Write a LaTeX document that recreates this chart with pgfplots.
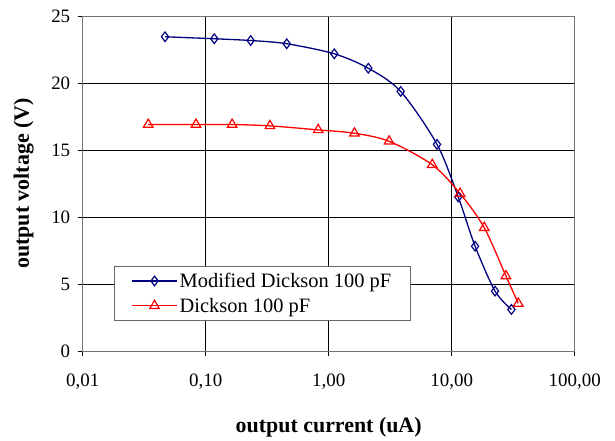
\documentclass[border=0pt]{standalone}
\usepackage{pgfplots}
\pgfplotsset{compat=1.18}
\usepackage{fontspec}
\setmainfont{Liberation Serif}
\definecolor{navyline}{RGB}{0,0,128}
\begin{document}
\begin{tikzpicture}
\begin{axis}[
  name=ax,
  scale only axis,
  width=492bp, height=335bp,
  xmode=log, log basis x=10,
  xmin=0.01, xmax=100, ymin=0, ymax=25,
  xtick={0.01,0.1,1,10,100},
  xticklabels={{0,01},{0,10},{1,00},{10,00},{100,00}},
  ytick={0,5,10,15,20,25},
  xminorticks=false, yminorticks=false,
  grid=major,
  major grid style={black, line width=0.6pt},
  axis line style={black!55, line width=0.8pt},
  tick style={black, line width=0.6pt},
  tick align=outside, tick pos=left,
  major tick length=5bp,
  /pgf/number format/assume math mode=true,
  ticklabel style={font=\fontsize{19}{22}\selectfont},
  xticklabel style={yshift=-14bp},
  yticklabel style={xshift=-4bp},
  xlabel={output current (uA)},
  ylabel={output voltage (V)},
  every axis x label/.style={at={(axis description cs:0.5,-0.227)}, anchor=center,
    font=\fontsize{22}{26}\selectfont\bfseries},
  every axis y label/.style={at={(axis description cs:-0.12,0.5)}, rotate=90, anchor=center,
    font=\fontsize{22}{26}\selectfont\bfseries},
  legend style={at={(rel axis cs:0.0636,0.0896)}, anchor=south west,
    draw=black!60, line width=0.8pt, fill=white,
    font=\fontsize{20.5}{24}\selectfont, inner xsep=17bp, inner ysep=5bp,
    row sep=5bp},
  legend cell align=left,
  legend image code/.code={
    \draw[#1] (0bp,0bp) -- (45bp,0bp);
    \draw[#1, only marks] plot coordinates {(22.5bp,0bp)};
  },
]
\addplot[navyline, line width=1.3pt, smooth, tension=0.5,
  mark=diamond, mark size=4.8bp, mark options={solid, line width=1.2pt, fill=white}]
  coordinates {
  (0.0467,23.45) (0.1175,23.3) (0.232,23.17) (0.456,22.93) (1.11,22.18)
  (2.10,21.1) (3.85,19.37) (7.60,15.42) (11.3,11.5) (15.5,7.82)
  (22.5,4.47) (30.6,3.1)
  };
\addlegendentry{Modified Dickson 100 pF}
\addplot[red, line width=1.3pt, smooth, tension=0.5,
  mark=triangle, mark size=5.5bp, mark options={solid, line width=1.2pt, fill=white}]
  coordinates {
  (0.0341,16.9) (0.0834,16.9) (0.164,16.9) (0.333,16.8) (0.822,16.5)
  (1.62,16.25) (3.10,15.65) (6.95,13.9) (11.7,11.75) (18.4,9.2)
  (27.6,5.6) (34.8,3.55)
  };
\addlegendentry{Dickson 100 pF}
\end{axis}
\path ([shift={(-82.7bp,-87bp)}]ax.south west) rectangle ([shift={(40.3bp,16bp)}]ax.north east);
\end{tikzpicture}
\end{document}
